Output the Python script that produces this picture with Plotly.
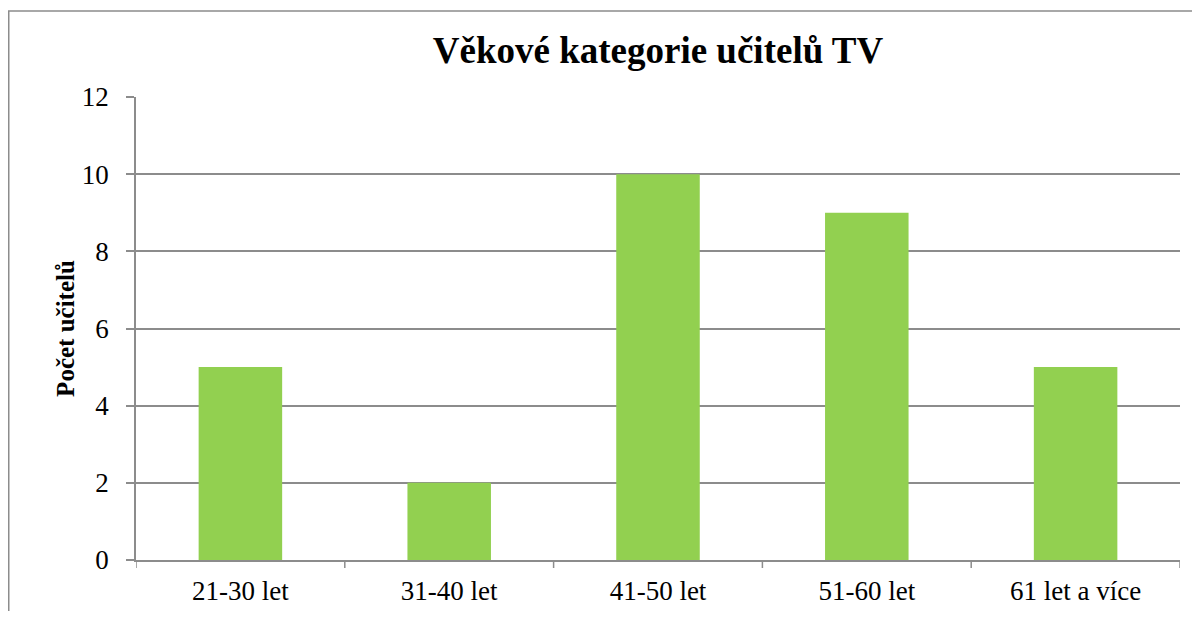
import plotly.graph_objects as go

categories = ["21-30 let", "31-40 let", "41-50 let", "51-60 let", "61 let a více"]
values = [5, 2, 10, 9, 5]
y_ticks = [0, 2, 4, 6, 8, 10, 12]

W, H = 1184, 603
L, R, T, B = 128, 12, 89, 51
pw, ph = W - L - R, H - T - B

fig = go.Figure(go.Bar(x=categories, y=values, marker=dict(color="#92D050", line=dict(width=0)), width=0.4))

fig.update_layout(
    width=W, height=H,
    margin=dict(l=L, r=R, t=T, b=B, autoexpand=False),
    paper_bgcolor="white", plot_bgcolor="white",
    font=dict(family="Liberation Serif", color="black", size=27),
    title=dict(text="<b>Věkové kategorie učitelů TV</b>", x=0.5, xanchor="center", xref="paper",
               y=1 - 42 / H, yanchor="middle", font=dict(size=37, family="Liberation Serif")),
    showlegend=False,
    bargap=0.6,
)
fig.update_xaxes(showline=True, linecolor="#8c8c8c", linewidth=1.5, ticks="", showgrid=False,
                 tickfont=dict(size=27), automargin=False, ticklabelstandoff=6)
fig.update_yaxes(range=[0, 12], tickvals=y_ticks, showline=True, linecolor="#8c8c8c", linewidth=1.5,
                 ticks="outside", ticklen=8, tickcolor="#8c8c8c", tickwidth=1.5,
                 showgrid=True, gridcolor="#8c8c8c", gridwidth=1.5, zeroline=False,
                 tickfont=dict(size=27), automargin=False, ticklabelstandoff=12,
                 title=dict(text="<b>Počet učitelů</b>", font=dict(size=25), standoff=0))

shapes = []
n = len(categories)
for i in range(n + 1):
    shapes.append(dict(type="line", xref="x", yref="paper", x0=i - 0.5, x1=i - 0.5, y0=0, y1=-8 / ph,
                       line=dict(color="#8c8c8c", width=1.5)))
shapes.append(dict(type="rect", xref="paper", yref="paper",
                   x0=(0.75 - L) / pw, x1=1.2, y0=-0.5, y1=1 + (T - 3) / ph,
                   line=dict(color="#8c8c8c", width=1.5), layer="below"))
fig.update_layout(shapes=shapes)
fig.update_xaxes(range=[-0.5, n - 0.5])

fig.write_html("out.html")
